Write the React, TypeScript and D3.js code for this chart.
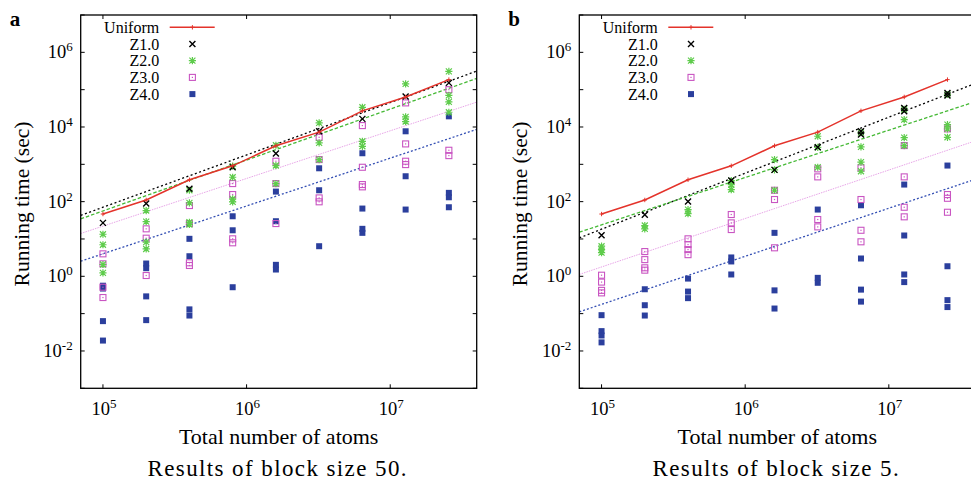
import React, { useEffect, useRef } from 'react';
import * as d3 from 'd3';

// x positions (total number of atoms) shared by every series
const atoms = [1e5, 2e5, 4e5, 8e5, 1.6e6, 3.2e6, 6.4e6, 1.28e7, 2.56e7];

// Uniform running time (sec), same in both panels
const uniformTime = [46.6, 111, 386, 912, 3140, 7290, 27100, 63800, 186000];

// block size 50 -- one list of running times per atoms column
const z1Block50 = [[27], [89], [220], [834], [1940], [7670], [16500], [65200], [152000]];
const z2Block50 = [
  [13.4, 7.0, 2.07, 1.24], [57.8, 29.3, 8.2, 5.4], [202, 93, 28, 24.4], [891, 450, 119, 99],
  [3240, 927, 305], [12900, 3750, 1340], [33700, 4140, 3040], [143000, 18600, 14000],
  [310000, 70600, 47000, 24800]
];
const z3Block50 = [
  [4.0, 2.16, 0.51, 0.27], [18.7, 10.5, 1.05], [78.7, 25.9, 2.3, 1.95], [305, 155, 10.1, 7.9],
  [1210, 305, 25.9], [5300, 1340, 126, 99], [10900, 834, 287, 249], [44200, 3520, 1210, 984],
  [100000, 2380, 1710]
];
const z4Block50 = [
  [0.56, 0.47, 0.063, 0.019], [2.2, 1.65, 0.29, 0.067], [10.1, 3.45, 0.13, 0.089], [40.6, 17.1, 0.51],
  [186, 29.9, 2.03, 1.52], [783, 202, 6.4], [1980, 65.3, 18.7, 14.6], [7670, 479, 61.4],
  [19300, 172, 131, 70.8]
];

// block size 5
const z1Block5 = [[12.6], [44.3], [101], [367], [710], [2860], [7670, 6250], [32400, 26300], [81800, 69300]];
const z2Block5 = [
  [6.4, 5.2, 4.3], [22.9, 18.7], [61.4, 48], [367, 287, 211], [1340, 710, 202],
  [5640, 2860, 834], [7080, 2930, 1140, 652], [29500, 15800, 5200, 3180], [74100, 11600, 8890, 5300]
];
const z3Block5 = [
  [1.07, 0.7, 0.42, 0.36], [4.6, 2.8, 1.69, 1.46], [10.1, 7.1, 5.2, 3.8], [45.2, 27, 17.9],
  [202, 114, 5.8], [755, 461, 33.2, 21.1], [804, 114, 17.1, 8.4], [3180, 461, 70.8, 39.2],
  [8890, 155, 123, 52]
];
const z4Block5 = [
  [0.091, 0.034, 0.026, 0.017], [0.45, 0.168, 0.089], [0.87, 0.39, 0.26], [3.2, 2.5, 1.12],
  [14.6, 0.42, 0.137], [61.4, 0.91, 0.67], [80, 3.0, 0.44, 0.21], [287, 12.4, 1.12, 0.7],
  [927, 1.86, 0.23, 0.15]
];

// fitted trend lines, running time at the two ends of the x axis
const fitAtoms = [7e4, 4e7];
const fitsBlock50 = [[42.9, 314000], [34.6, 200000], [14, 46400], [2.54, 8630]];
const fitsBlock5 = [[10.7, 147000], [15.2, 47700], [1.12, 4250], [0.112, 397]];

const seriesNames = ['Uniform', 'Z1.0', 'Z2.0', 'Z3.0', 'Z4.0'];
const xTickExps = [5, 6, 7];
const yTickExps = [-3, -2, -1, 0, 1, 2, 3, 4, 5, 6, 7];
const yLabelExps = [-2, 0, 2, 4, 6];

const panels = [
  { tag: 'a', caption: 'Results of block size 50.', z: [z1Block50, z2Block50, z3Block50, z4Block50], fits: fitsBlock50 },
  { tag: 'b', caption: 'Results of block size 5.', z: [z1Block5, z2Block5, z3Block5, z4Block5], fits: fitsBlock5 }
];

const FONT = "'Liberation Serif', 'Times New Roman', 'DejaVu Serif', serif";
const RED = '#e4332b';
const colors = ['#000000', '#5fcc4c', '#c955c2', '#2b3f9d'];
const fitColors = ['#000000', '#45b935', '#e7a5e7', '#3550b4'];
const fitDash = ['2,2.5', '3.5,2', '1.5,1', '2,2'];

const App = () => {
  const svgRef = useRef();

  useEffect(() => {
    document.body.style.margin = '0';
    const svg = d3.select(svgRef.current);
    svg.selectAll('*').remove();

    const plotW = 396;
    const top = 15;
    const bottom = 388.3;
    const lefts = [80.7, 579.3];

    const marker = (g, kind, cx, cy, color) => {
      if (kind === 0) {
        g.append('path')
          .attr('d', `M${cx - 3},${cy - 3}L${cx + 3},${cy + 3}M${cx - 3},${cy + 3}L${cx + 3},${cy - 3}`)
          .attr('stroke', color).attr('stroke-width', 1.4).attr('fill', 'none');
      } else if (kind === 1) {
        g.append('path')
          .attr('d', `M${cx - 3},${cy - 3}L${cx + 3},${cy + 3}M${cx - 3},${cy + 3}L${cx + 3},${cy - 3}` +
            `M${cx - 3.6},${cy}L${cx + 3.6},${cy}M${cx},${cy - 3.6}L${cx},${cy + 3.6}`)
          .attr('stroke', color).attr('stroke-width', 1.2).attr('fill', 'none');
      } else if (kind === 2) {
        g.append('rect')
          .attr('x', cx - 3).attr('y', cy - 3).attr('width', 6).attr('height', 6)
          .attr('stroke', color).attr('stroke-width', 1.1).attr('fill', 'none');
        g.append('rect')
          .attr('x', cx - 0.6).attr('y', cy - 0.6).attr('width', 1.2).attr('height', 1.2)
          .attr('fill', color);
      } else {
        g.append('rect')
          .attr('x', cx - 3).attr('y', cy - 3).attr('width', 6).attr('height', 6)
          .attr('fill', color);
      }
    };

    const plusMark = (g, cx, cy) => {
      g.append('path')
        .attr('d', `M${cx - 2.2},${cy}L${cx + 2.2},${cy}M${cx},${cy - 2.2}L${cx},${cy + 2.2}`)
        .attr('stroke', RED).attr('stroke-width', 1);
    };

    const powLabel = (sel, exp) => {
      sel.append('tspan').text('10');
      sel.append('tspan').attr('dy', -7).attr('font-size', 13).text(String(exp));
    };

    panels.forEach((p, pi) => {
      const ox = lefts[pi];
      const x = d3.scaleLog().domain([7e4, 4e7]).range([ox, ox + plotW]);
      const y = d3.scaleLog().domain([1e-3, 1e7]).range([bottom, top]);
      const g = svg.append('g').style('font-family', FONT);

      const clipId = `plot-clip-${pi}`;
      g.append('clipPath').attr('id', clipId)
        .append('rect').attr('x', ox).attr('y', top).attr('width', plotW).attr('height', bottom - top);

      const plot = g.append('g').attr('clip-path', `url(#${clipId})`);

      // fit lines
      p.fits.forEach((f, k) => {
        plot.append('path')
          .attr('d', d3.line()(fitAtoms.map((a, j) => [x(a), y(f[j])])))
          .attr('fill', 'none')
          .attr('stroke', fitColors[k])
          .attr('stroke-width', k === 2 ? 1 : 1.3)
          .attr('stroke-dasharray', fitDash[k]);
      });

      // scatter, back to front: Z4, Z3, Z2, Z1
      [3, 2, 1, 0].forEach((k) => {
        p.z[k].forEach((col, ci) => {
          col.forEach((v) => marker(plot, k, x(atoms[ci]), y(v), colors[k]));
        });
      });

      // uniform line
      plot.append('path')
        .attr('d', d3.line()(atoms.map((a, i) => [x(a), y(uniformTime[i])])))
        .attr('fill', 'none').attr('stroke', RED).attr('stroke-width', 1.5);
      atoms.forEach((a, i) => plusMark(plot, x(a), y(uniformTime[i])));

      // frame and ticks
      g.append('rect')
        .attr('x', ox).attr('y', top).attr('width', plotW).attr('height', bottom - top)
        .attr('fill', 'none').attr('stroke', '#000').attr('stroke-width', 1.3);

      yTickExps.forEach((e) => {
        const ty = y(Math.pow(10, e));
        g.append('path')
          .attr('d', `M${ox},${ty}H${ox + 4}M${ox + plotW},${ty}H${ox + plotW - 4}`)
          .attr('stroke', '#000').attr('stroke-width', 1);
      });
      yLabelExps.forEach((e) => {
        const t = g.append('text')
          .attr('x', ox - 8).attr('y', y(Math.pow(10, e)) + 6)
          .attr('text-anchor', 'end').attr('font-size', 18.5);
        powLabel(t, e);
      });

      xTickExps.forEach((e) => {
        const tx = x(Math.pow(10, e));
        g.append('path')
          .attr('d', `M${tx},${bottom}V${bottom - 4}M${tx},${top}V${top + 4}`)
          .attr('stroke', '#000').attr('stroke-width', 1);
        const t = g.append('text')
          .attr('x', tx + 1).attr('y', 415)
          .attr('text-anchor', 'middle').attr('font-size', 18.5);
        powLabel(t, e);
      });

      // titles
      g.append('text')
        .attr('transform', `translate(${ox - 52},${204}) rotate(-90)`)
        .attr('text-anchor', 'middle').attr('font-size', 21.5)
        .text('Running time (sec)');
      g.append('text')
        .attr('x', ox + 198).attr('y', 444)
        .attr('text-anchor', 'middle').attr('font-size', 22)
        .text('Total number of atoms');
      g.append('text')
        .attr('x', ox + 197).attr('y', 476)
        .attr('text-anchor', 'middle').attr('font-size', 23)
        .attr('letter-spacing', 1.4)
        .text(p.caption);
      g.append('text')
        .attr('x', ox - 71).attr('y', 26)
        .attr('font-size', 21).attr('font-weight', 'bold')
        .text(p.tag);

      // legend
      seriesNames.forEach((name, i) => {
        const ly = 27.3 + i * 16.7;
        g.append('text')
          .attr('x', ox + 78.5).attr('y', ly + 5.5)
          .attr('text-anchor', 'end').attr('font-size', 16)
          .text(name);
        if (i === 0) {
          g.append('line')
            .attr('x1', ox + 89).attr('x2', ox + 134).attr('y1', ly).attr('y2', ly)
            .attr('stroke', RED).attr('stroke-width', 1.5);
          plusMark(g, ox + 111.7, ly);
        } else {
          marker(g, i - 1, ox + 111.7, ly, colors[i - 1]);
        }
      });
    });
  }, []);

  return (
    <svg ref={svgRef} width={971} height={484} style={{ display: 'block', background: '#fff' }} />
  );
};

export default App;
